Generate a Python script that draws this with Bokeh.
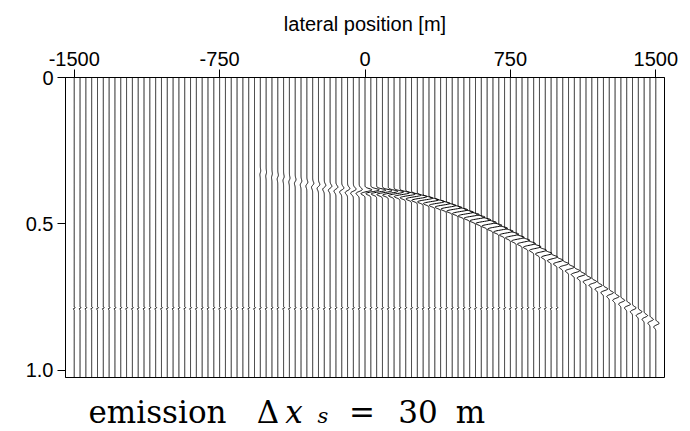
import numpy as np
from bokeh.plotting import figure
from bokeh.layouts import column
from bokeh.models import Range1d, FixedTicker
from bokeh.core.properties import value
from bokeh.embed import file_html
from bokeh.resources import INLINE

# ---------------- data ----------------
trace_offsets = list(range(-1500, 1501, 30))          # 101 receivers, 30 m apart
x_ticks = [-1500, -750, 0, 750, 1500]
x_labels = {-1500: "-1500", -750: "-750", 0: "0", 750: "750", 1500: "1500"}
y_ticks = [0, 0.5, 1.0]
y_labels = {0: "0", 0.5: "0.5", 1: "1.0"}

# main (strong) event, right half
main_x = list(range(0, 1501, 30))
main_t = [0.390, 0.390, 0.391, 0.393, 0.395, 0.397, 0.400, 0.404, 0.408, 0.413,
          0.418, 0.424, 0.430, 0.436, 0.443, 0.450, 0.458, 0.466, 0.474, 0.483,
          0.492, 0.501, 0.511, 0.521, 0.531, 0.541, 0.552, 0.562, 0.573, 0.584,
          0.596, 0.607, 0.619, 0.630, 0.642, 0.654, 0.666, 0.678, 0.691, 0.703,
          0.716, 0.728, 0.741, 0.754, 0.767, 0.780, 0.793, 0.806, 0.819, 0.832,
          0.845]
main_amp = [36, 44, 48, 50, 50, 50, 50, 50, 50, 50,
            50, 50, 50, 50, 50, 50, 50, 50, 50, 50,
            49, 48, 47, 46, 45, 44, 42, 41, 40, 38,
            36, 35, 33, 31, 30, 29, 28, 27, 26, 25,
            24, 23, 22, 21, 20, 20, 19, 19, 18, 18, 18]

# weak event, left of the apex
weak_x = list(range(-540, 0, 30))
weak_t = [0.325, 0.330, 0.335, 0.340, 0.345, 0.350, 0.355, 0.360, 0.364,
          0.368, 0.372, 0.375, 0.378, 0.381, 0.384, 0.386, 0.388, 0.389]
weak_amp = [2, 2, 2, 3, 3, 3, 4, 4, 5, 6, 7, 8, 9, 10, 11, 12, 14, 16]

# faint flat event (dotted line)
flat_t = 0.788
flat_x_max = 990
flat_amp = 5

# ---------------- build wiggle traces ----------------
T_END = 1.024
t = np.arange(0.0, T_END + 1e-9, 0.001)


def wavelet_odd(u):
    return -u * np.exp(0.5 * (1.0 - u * u))


def wavelet_main(u):
    # strong right (positive) lobe first, weaker left lobe after it
    return np.exp(-2.0 * (u + 0.7) ** 2) - 0.6 * np.exp(-2.0 * (u - 0.7) ** 2)


events = {}
for x, tt, a in zip(main_x, main_t, main_amp):
    events.setdefault(x, []).append((tt, a, 0.009, wavelet_main))
for x, tt, a in zip(weak_x, weak_t, weak_amp):
    events.setdefault(x, []).append((tt, a, 0.007, wavelet_odd))
for x in trace_offsets:
    if x <= flat_x_max:
        events.setdefault(x, []).append((flat_t, flat_amp, 0.002, wavelet_odd))

xs, ys = [], []
for x in trace_offsets:
    tr = np.zeros_like(t)
    for tt, a, s, w in events.get(x, []):
        tr += a * w((t - tt) / s)
    xs.append(x + tr)
    ys.append(t)

# ---------------- main figure ----------------
X0, X1 = -1545, 1545
FW, FH = 599, 300
BL, BR, BT, BB = 65, 18, 77, 3

p = figure(frame_width=FW, frame_height=FH,
           min_border_left=BL, min_border_right=BR,
           min_border_top=BT, min_border_bottom=BB,
           x_range=Range1d(X0, X1), y_range=Range1d(T_END, 0),
           x_axis_location="above", output_backend="svg",
           toolbar_location=None, background_fill_color="white",
           border_fill_color="white")

p.multi_line(xs, ys, line_color="black", line_width=1)

p.xgrid.visible = False
p.ygrid.visible = False
p.outline_line_color = "black"
p.outline_line_width = 1
p.outline_line_alpha = 1

ax = p.xaxis[0]
ax.ticker = FixedTicker(ticks=x_ticks)
ax.major_label_overrides = x_labels
ax.axis_label = "lateral position [m]"
ay = p.yaxis[0]
ay.ticker = FixedTicker(ticks=y_ticks)
ay.major_label_overrides = y_labels

for a in (ax, ay):
    a.major_label_text_font = "Liberation Sans"
    a.major_label_text_font_size = "20px"
    a.major_label_text_color = "black"
    a.axis_label_text_font = "Liberation Sans"
    a.axis_label_text_font_size = "20px"
    a.axis_label_text_font_style = "normal"
    a.axis_label_text_color = "black"
    a.axis_line_color = "black"
    a.major_tick_line_color = "black"
    a.major_tick_out = 8
    a.major_tick_in = 0
    a.minor_tick_line_color = None
    a.major_label_standoff = 4
ax.axis_label_standoff = 14

# ---------------- caption strip (same frame geometry as the main plot) ----------------
CH = 50
c = figure(frame_width=FW, frame_height=CH,
           min_border_left=BL, min_border_right=BR,
           min_border_top=0, min_border_bottom=0,
           x_range=Range1d(X0, X1), y_range=Range1d(CH, 0),
           output_backend="svg", toolbar_location=None,
           background_fill_color="white", border_fill_color="white")
c.axis.visible = False
c.xgrid.visible = False
c.ygrid.visible = False
c.outline_line_color = None

px_per_m = FW / (X1 - X0)


def dx(px):
    return X0 + (px - BL) / px_per_m


caption = [
    ("emission", 157, 31, "normal", "31px"),
    ("Δ", 267.5, 31, "normal", "31px"),
    ("x", 293.5, 31, "italic", "31px"),
    ("s", 322.5, 35, "italic", "21px"),
    ("=", 361.5, 31, "normal", "31px"),
    ("30", 417.5, 31, "normal", "31px"),
    ("m", 470, 31, "normal", "31px"),
]
for txt, cx, by, style, size in caption:
    c.text(x=[dx(cx)], y=[by], text=[txt], text_align="center",
           text_baseline="alphabetic", text_font=value("DejaVu Serif"),
           text_font_style=style, text_font_size=size, text_color="black")

layout = column(p, c, spacing=0)
open("out.html", "w").write(file_html(layout, INLINE))
